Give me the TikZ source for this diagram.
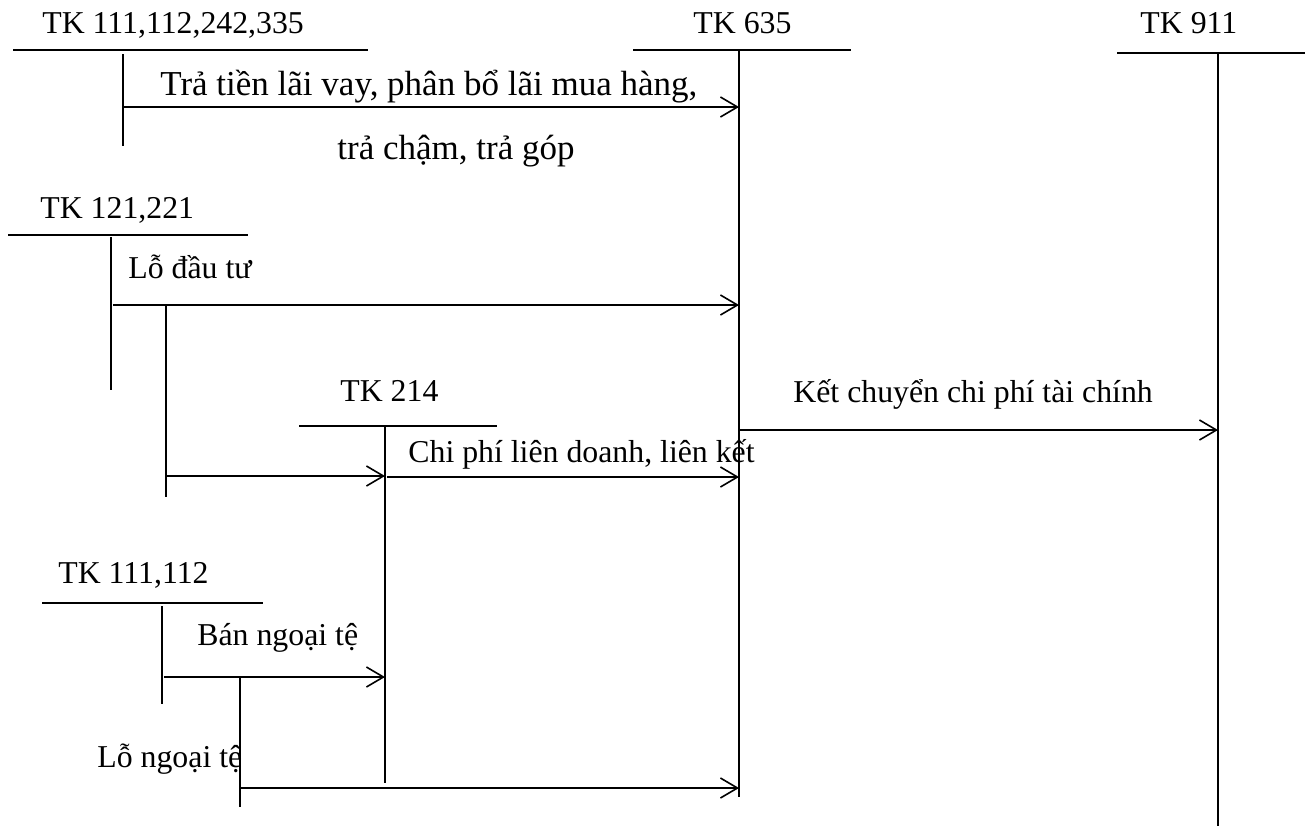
\documentclass[tikz,border=0pt]{standalone}
\usepackage{fontspec}
\setmainfont{Liberation Serif}
\usetikzlibrary{arrows.meta}
\begin{document}
\begin{tikzpicture}[
            x=0.5pt, y=-0.5pt,
            acct/.style={
                    anchor=base west,
                    inner sep=0pt,
                    font=\fontsize{15.9}{18}\selectfont
                },
            note/.style={
                    anchor=base west,
                    inner sep=0pt,
                    font=\fontsize{15.9}{18}\selectfont
                },
            bignote/.style={
                    note,
                    font=\fontsize{17.5}{20}\selectfont
                },
            ledger/.style={
                    line width=0.75pt
                },
            post/.style={
                    -{Straight Barb[length=8.5pt,width=10pt,line width=0.8pt]},
                    line width=0.95pt
                }
        ]
        \useasboundingbox (0,0) rectangle (1309,826);

        % account titles
        \node[acct] (tk111a) at (42, 33) {TK 111,112,242,335};
        \node[acct] (tk635) at (693, 33) {TK 635};
        \node[acct] (tk911) at (1140, 33) {TK 911};
        \node[acct] (tk121) at (40, 218) {TK 121,221};
        \node[acct] (tk214) at (340, 401) {TK 214};
        \node[acct] (tk111b) at (58, 583) {TK 111,112};

        % T-account lines
        \coordinate (s111at) at (123, 54);  \coordinate (s111ab) at (123, 146);
        \coordinate (s635t) at (739, 50);   \coordinate (s635b) at (739, 797);
        \coordinate (s911t) at (1218, 53);  \coordinate (s911b) at (1218, 826);
        \coordinate (s121t) at (111, 237);  \coordinate (s121b) at (111, 390);
        \coordinate (s214t) at (385, 426);  \coordinate (s214b) at (385, 783);
        \coordinate (s111bt) at (162, 606); \coordinate (s111bb) at (162, 704);

        \draw[ledger] (13, 50) -- (368, 50);
        \draw[ledger] (633, 50) -- (851, 50);
        \draw[ledger] (1117, 53) -- (1305, 53);
        \draw[ledger] (8, 235) -- (248, 235);
        \draw[ledger] (299, 426) -- (497, 426);
        \draw[ledger] (42, 603) -- (263, 603);

        \draw[ledger] (s111at) -- (s111ab);
        \draw[ledger] (s635t) -- (s635b);
        \draw[ledger] (s911t) -- (s911b);
        \draw[ledger] (s121t) -- (s121b);
        \draw[ledger] (s214t) -- (s214b);
        \draw[ledger] (s111bt) -- (s111bb);

        % arrow starts
        \coordinate (laivay) at (123, 107);
        \coordinate (loddt) at (113, 305);
        \coordinate (lienk) at (166, 476);
        \coordinate (chiphi) at (387, 477);
        \coordinate (ketch) at (739, 430);
        \coordinate (banngt) at (164, 677);
        \coordinate (longt) at (241, 788);

        % extra stems
        \draw[ledger] (loddt -| lienk) -- (166, 497);
        \draw[ledger] (240, 677) -- (240, 807);

        \draw[post] (laivay) -- (laivay -| s635t);
        \draw[post] (loddt) -- (loddt -| s635t);
        \draw[post] (lienk) -- (lienk -| s214t);
        \draw[post] (chiphi) -- (chiphi -| s635t);
        \draw[post] (ketch) -- (ketch -| s911t);
        \draw[post] (banngt) -- (banngt -| s214t);
        \draw[post] (longt) -- (longt -| s635t);

        % entry texts
        \node[bignote] (txlai) at (160, 95) {Trả tiền lãi vay, phân bổ lãi mua hàng,};
        \node[bignote] (txcham) at (337, 159) {trả chậm, trả góp};
        \node[note] (txlodt) at (128, 278) {Lỗ đầu tư};
        \node[note] (txlienk) at (408, 462) {Chi phí liên doanh, liên kết};
        \node[note] (txketch) at (793, 402) {Kết chuyển chi phí tài chính};
        \node[note] (txban) at (197, 645) {Bán ngoại tệ};
        \node[note] (txlongt) at (97, 767) {Lỗ ngoại tệ};

    \end{tikzpicture}
\end{document}
